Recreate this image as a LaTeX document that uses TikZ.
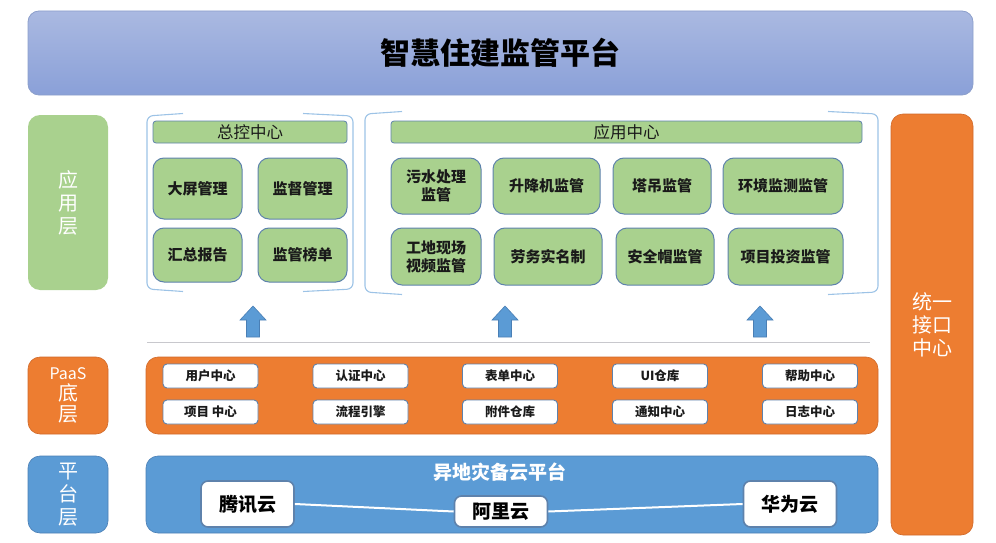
\documentclass[tikz,border=0pt]{standalone}
\usepackage{fontspec}
\setmainfont{Noto Sans CJK SC}
\usetikzlibrary{shapes.arrows}
\definecolor{gfill}{HTML}{A9D18E}
\definecolor{gline}{HTML}{5E82AC}
\definecolor{ofill}{HTML}{ED7D31}
\definecolor{oline}{HTML}{D0692A}
\definecolor{bfill}{HTML}{5B9BD5}
\definecolor{bline}{HTML}{4A7FB5}
\definecolor{tline}{HTML}{8C9FCB}
\definecolor{brk}{HTML}{9DC3E6}
\definecolor{tx}{HTML}{1A1A1A}
\tikzset{
  base/.style={rectangle, inner sep=0pt, align=center},
  gbox/.style={base, fill=gfill, draw=gline, line width=1pt, rounded corners=11pt, text=tx, font=\fontsize{15}{18}\selectfont\bfseries},
  gbar/.style={base, fill=gfill, draw=gline, line width=0.8pt, rounded corners=3pt, text=tx, font=\fontsize{16.5}{19}\selectfont, minimum height=22pt},
  lbl/.style={base, rounded corners=12pt, text=white, font=\fontsize{20}{23}\selectfont, minimum width=80pt},
  wbox/.style={base, fill=white, draw=gline, line width=0.9pt, rounded corners=4pt, text=tx, font=\fontsize{12.5}{15}\selectfont\bfseries, minimum width=95pt, minimum height=24pt},
  cbox/.style={base, fill=white, draw=gline, line width=1.6pt, rounded corners=7pt, text=black, font=\fontsize{19}{22}\selectfont\bfseries, minimum width=93pt},
  brack/.style={draw=brk, line width=1.1pt, rounded corners=6pt},
  uparrow/.style={fill=bfill, draw=bline, line width=0.6pt},
}
\begin{document}
\begin{tikzpicture}[x=1pt,y=-1pt]
\useasboundingbox (0,0) rectangle (996,543);
% title
\node[base, rounded corners=11pt, draw=tline, line width=0.8pt, top color={rgb,255:red,170;green,185;blue,225}, bottom color={rgb,255:red,138;green,160;blue,216}, minimum width=945pt, minimum height=84pt, text=black, font=\fontsize{30}{34}\selectfont\bfseries] (title) at (500.5,53) {智慧住建监管平台};
% left labels
\node[lbl, fill=gfill, minimum height=175pt] (lapp) at (68,202.5) {应\\用\\层};
\node[lbl, fill=ofill, draw=oline, line width=0.6pt, minimum height=77pt] (lpaas) at (68,395.5) {{\fontsize{16}{19}\selectfont PaaS}\\[-2pt]底\\[-2pt]层};
\node[lbl, fill=bfill, draw=bline, line width=0.6pt, minimum height=77pt] (lplat) at (68,494.5) {平\\台\\层};
% right column
\node[base, fill=ofill, draw=oline, line width=0.6pt, rounded corners=12pt, minimum width=82pt, minimum height=421pt, text=white, font=\fontsize{20}{23}\selectfont] (iface) at (932,324.5) {统一\\接口\\中心};
% brackets
\draw[brack] (183,113.5) -- (147,116) -- (147,289) -- (183,291.5);
\draw[brack] (303,113.5) -- (353,116) -- (353,289) -- (303,291.5);
\draw[brack] (402,111.5) -- (365,114) -- (365,292) -- (402,294.5);
\draw[brack] (828,111.5) -- (878,114) -- (878,292) -- (828,294.5);
% bars
\node[gbar, minimum width=194pt] (zk) at (250,132) {总控中心};
\node[gbar, minimum width=471pt] (yy) at (626.5,132) {应用中心};
% control boxes
\node[gbox, minimum width=89pt, minimum height=61pt] (dp) at (197.5,188.5) {大屏管理};
\node[gbox, minimum width=89pt, minimum height=61pt] (jd) at (302.5,188.5) {监督管理};
\node[gbox, minimum width=89pt, minimum height=54pt] (hz) at (197.5,255) {汇总报告};
\node[gbox, minimum width=89pt, minimum height=54pt] (bd) at (302.5,255) {监管榜单};
% app boxes
\node[gbox, minimum width=90pt, minimum height=56pt] (ws) at (436,186) {污水处理\\监管};
\node[gbox, minimum width=107pt, minimum height=56pt] (sj) at (546.5,186) {升降机监管};
\node[gbox, minimum width=98pt, minimum height=56pt] (td) at (662,186) {塔吊监管};
\node[gbox, minimum width=120pt, minimum height=56pt] (hj) at (783,186) {环境监测监管};
\node[gbox, minimum width=90pt, minimum height=57pt] (gd) at (436,256.5) {工地现场\\视频监管};
\node[gbox, minimum width=108pt, minimum height=57pt] (lw) at (548,256.5) {劳务实名制};
\node[gbox, minimum width=98pt, minimum height=57pt] (aq) at (665,256.5) {安全帽监管};
\node[gbox, minimum width=115pt, minimum height=57pt] (xm) at (785.5,256.5) {项目投资监管};
% arrows
\foreach \cx in {253,505,760}{
  \draw[uparrow] (\cx-6.5,337) -- (\cx-6.5,320) -- (\cx-13,320) -- (\cx,306) -- (\cx+13,320) -- (\cx+6.5,320) -- (\cx+6.5,337) -- cycle;
}
% separator
\draw[draw={rgb,255:red,200;green,200;blue,205}, line width=1pt] (147,342) -- (870,342);
% PaaS
\node[base, fill=ofill, draw=oline, line width=0.6pt, rounded corners=12pt, minimum width=732pt, minimum height=77pt] (paas) at (512,395.5) {};
\node[wbox] (p1) at (210.5,376) {用户中心};
\node[wbox] (p2) at (360.5,376) {认证中心};
\node[wbox] (p3) at (510,376) {表单中心};
\node[wbox] (p4) at (660,376) {UI仓库};
\node[wbox] (p5) at (810,376) {帮助中心};
\node[wbox] (q1) at (210.5,412) {项目 中心};
\node[wbox] (q2) at (360.5,412) {流程引擎};
\node[wbox] (q3) at (510,412) {附件仓库};
\node[wbox] (q4) at (660,412) {通知中心};
\node[wbox] (q5) at (810,412) {日志中心};
% platform
\node[base, fill=bfill, draw=bline, line width=0.6pt, rounded corners=12pt, minimum width=732pt, minimum height=77pt] (plat) at (512,494.5) {};
\node[base, text=white, font=\fontsize{19}{22}\selectfont\bfseries] (ptitle) at (500,472) {异地灾备云平台};
\node[cbox, minimum height=46pt] (tc) at (247.5,504) {腾讯云};
\node[cbox, minimum height=31pt] (al) at (501,511.5) {阿里云};
\node[cbox, minimum height=46pt] (hw) at (790,504) {华为云};
\draw[white, line width=2pt] (tc.east) -- (al.west);
\draw[white, line width=2pt] (al.east) -- (hw.west);
\end{tikzpicture}
\end{document}
